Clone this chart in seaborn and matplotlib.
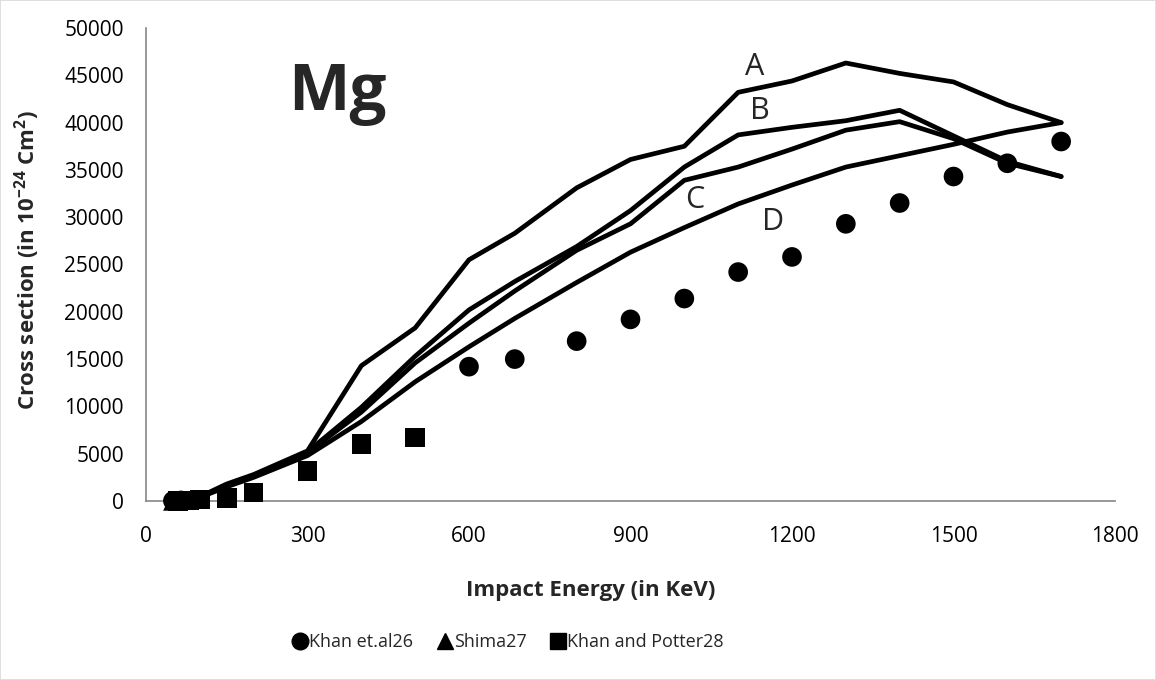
import matplotlib
matplotlib.use("Agg")
import matplotlib.pyplot as plt
import seaborn as sns
import pandas as pd
from matplotlib.patches import Rectangle
from matplotlib.lines import Line2D

# ---------------- data ----------------
energy = [50, 60, 70, 80, 100, 150, 200, 300, 400, 500, 600, 685, 800, 900,
          1000, 1100, 1200, 1300, 1400, 1500, 1600, 1700]
curve_A = [0, 40, 90, 160, 450, 1800, 2800, 5300, 14300, 18300, 25500, 28300,
           33100, 36100, 37500, 43200, 44400, 46300, 45200, 44300, 41900, 40000]
curve_B = [0, 40, 80, 150, 420, 1650, 2700, 5200, 9900, 15300, 20200, 23200,
           26900, 30700, 35300, 38700, 39500, 40200, 41300, 38600, 35900, 34300]
curve_C = [0, 40, 80, 150, 400, 1600, 2600, 5100, 9400, 14600, 18800, 22200,
           26500, 29300, 33900, 35300, 37200, 39200, 40100, 38300, 35700, 34300]
curve_D = [0, 30, 70, 130, 380, 1500, 2500, 4800, 8400, 12600, 16300, 19300,
           23100, 26300, 28900, 31400, 33400, 35300, 36500, 37700, 39000, 40000]

khan_e = [50, 65, 600, 685, 800, 900, 1000, 1100, 1200, 1300, 1400, 1500, 1600, 1700]
khan_v = [20, 60, 14200, 15000, 16900, 19200, 21400, 24200, 25800, 29300,
          31500, 34300, 35700, 38000]
shima_e = [50, 60]
shima_v = [10, 30]
potter_e = [60, 80, 100, 150, 200, 300, 400, 500]
potter_v = [0, 50, 150, 300, 900, 3200, 6000, 6700]

curve_names = ["A", "B", "C", "D"]
series_names = ["Khan et.al26", "Shima27", "Khan and Potter28"]
xticks = [0, 300, 600, 900, 1200, 1500, 1800]
yticks = list(range(0, 50001, 5000))

# ---------------- style ----------------
sns.set_style("white")
plt.rcParams["font.family"] = ["Open Sans", "DejaVu Sans"]
plt.rcParams["mathtext.fontset"] = "custom"
plt.rcParams["mathtext.rm"] = "Open Sans"
plt.rcParams["mathtext.bf"] = "Open Sans:bold"
plt.rcParams["mathtext.default"] = "bf"

W, H = 1156, 680
fig = plt.figure(figsize=(W / 100, H / 100), dpi=100)
fig.patches.append(Rectangle((0, 0), 1, 1, transform=fig.transFigure,
                             fill=False, edgecolor="#d9d9d9", lw=1.2))
L, R, T, B = 146, 1115, 28, 501
ax = fig.add_axes([L / W, 1 - B / H, (R - L) / W, (B - T) / H])

curves = pd.DataFrame({"E": energy * 4,
                       "v": curve_A + curve_B + curve_C + curve_D,
                       "curve": sum([[n] * len(energy) for n in curve_names], [])})
for n in curve_names:
    sub = curves[curves["curve"] == n]
    sns.lineplot(data=sub, x="E", y="v", ax=ax, color="black", lw=3.4,
                 sort=False, estimator=None, legend=False,
                 solid_joinstyle="round", solid_capstyle="round")

msize = 200
sns.scatterplot(x=shima_e, y=shima_v, ax=ax, marker="^", s=msize, color="black",
                edgecolor="none", clip_on=False, zorder=3)
sns.scatterplot(x=potter_e, y=potter_v, ax=ax, marker="s", s=msize, color="black",
                edgecolor="none", clip_on=False, zorder=3)
sns.scatterplot(x=khan_e, y=khan_v, ax=ax, marker="o", s=msize, color="black",
                edgecolor="none", clip_on=False, zorder=3)

ax.set_xlim(0, 1800)
ax.set_ylim(0, 50000)
ax.set_xticks(xticks)
ax.set_yticks(yticks)
ax.set_xticklabels([str(t) for t in xticks])
ax.set_yticklabels([str(t) for t in yticks])
for s in ["top", "right"]:
    ax.spines[s].set_visible(False)
for s in ["left", "bottom"]:
    ax.spines[s].set_color("#868686")
    ax.spines[s].set_linewidth(1.2)
ax.tick_params(axis="both", direction="out", length=7, width=1.2, color="#868686",
               labelsize=15, labelcolor="black")
ax.tick_params(axis="x", pad=11)
ax.tick_params(axis="y", pad=9)

ax.set_xlabel("Impact Energy (in KeV)", fontsize=16, fontweight="bold")
ax.set_ylabel("Cross section (in 10$^{-24}$ Cm$^{2}$)",
              fontsize=16, fontweight="bold")
ax.xaxis.set_label_coords((591 - L) / (R - L), (B - 580) / (B - T))
ax.yaxis.set_label_coords((42 - L) / (R - L), (B - 260) / (B - T))

# curve letters
letter_pos = {"A": (1131, 45880), "B": (1140, 41240), "C": (1019, 31800), "D": (1165, 29500)}
for n in curve_names:
    x, y = letter_pos[n]
    ax.text(x, y, n, fontsize=22, ha="center", va="center")

ax.text(356, 41300, "Mg", fontsize=47, fontweight="bold", ha="center", va="baseline")

handles = [Line2D([], [], ls="none", marker=m, color="black", markersize=12)
           for m in ["o", "^", "s"]]
fig.legend(handles, series_names, loc="center", bbox_to_anchor=(508 / W, 1 - 642 / H),
           ncol=3, frameon=False, fontsize=13, handletextpad=0.05,
           columnspacing=1.3, handlelength=0.9)

fig.savefig("out.png", dpi=100)
